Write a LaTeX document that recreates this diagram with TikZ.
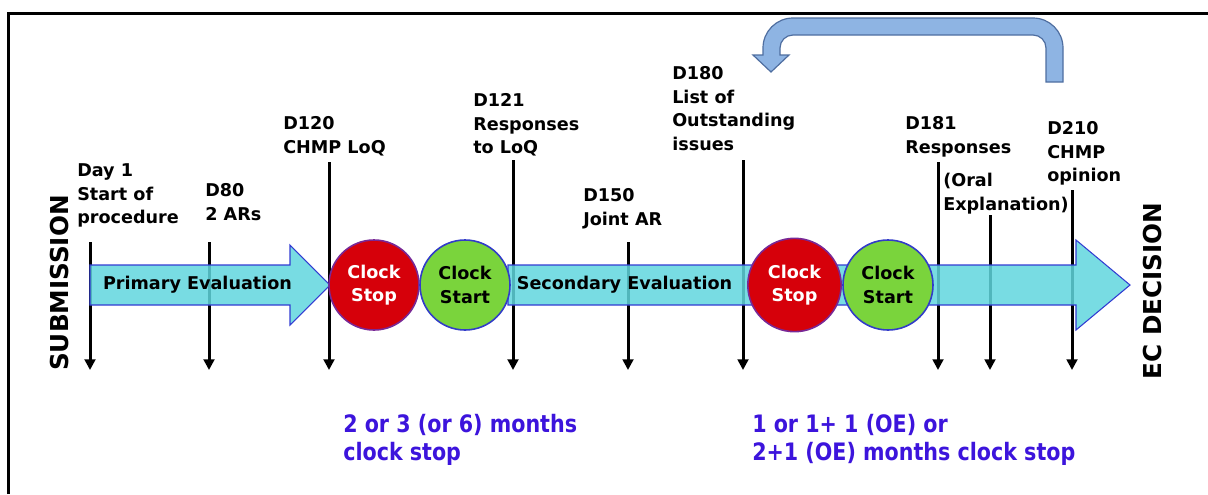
\documentclass[tikz,border=0pt]{standalone}
\usepackage{fontspec}
\setmainfont{DejaVu Sans}
\newfontfamily\condsans[FakeStretch=0.86]{DejaVu Sans}
\usetikzlibrary{arrows.meta}
\definecolor{evalfill}{RGB}{96,214,222}
\definecolor{evalline}{RGB}{50,60,210}
\definecolor{stopred}{RGB}{214,0,10}
\definecolor{stopline}{RGB}{120,40,150}
\definecolor{startgreen}{RGB}{122,212,60}
\definecolor{startline}{RGB}{50,60,200}
\definecolor{loopfill}{RGB}{142,180,227}
\definecolor{loopline}{RGB}{79,110,160}
\definecolor{notecol}{RGB}{60,20,220}
\begin{document}
\begin{tikzpicture}[x=0.75pt,y=-0.75pt,
  labelfont/.style={font=\bfseries\fontsize{13.2}{17.6}\selectfont},
  lbl/.style={labelfont, align=left, anchor=north west, inner sep=0pt},
  milestone/.style={line width=2.25pt, -{Triangle[width=8pt,length=8pt]}},
  evalarrow/.style={fill=evalfill, fill opacity=0.85, draw=evalline, line width=0.8pt},
  clockc/.style={circle, minimum size=67.5pt, inner sep=0pt, align=center, line width=1.2pt, labelfont},
  stopc/.style={clockc, draw=stopline, fill=stopred, text=white},
  startc/.style={clockc, draw=startline, fill=startgreen, text=black},
  sidetitle/.style={font=\bfseries\fontsize{18.5}{22}\selectfont, rotate=90, inner sep=0pt},
  note/.style={font=\condsans\bfseries\fontsize{18}{21}\selectfont, text=notecol, align=left, anchor=north west, inner sep=0pt},
  loop/.style={draw=loopline, fill=loopfill, line width=0.9pt}]
\useasboundingbox (0,0) rectangle (1208,494);

% outer frame (open at right and bottom)
\draw[line width=2.25pt] (8,494) -- (8,13) -- (1208,13);

% milestone ticks
\foreach \n/\x/\top in {m1/90/242, m80/209/242, m120/329/162, m121/513/160,
                        m150/628/242, m180/743/160, m181/938/162, moe/990/215, m210/1072/190}{
  \coordinate (\n top) at (\x,\top);
  \coordinate (\n bot) at (\x,370);
  \draw[milestone] (\n top) -- (\n bot);
}

% evaluation arrows
\draw[evalarrow] (90,265) -- (290,265) -- (290,245) -- (330,285) -- (290,325) -- (290,305) -- (90,305) -- cycle;
\draw[evalarrow] (508,265) -- (1076,265) -- (1076,240) -- (1130,285) -- (1076,330) -- (1076,305) -- (508,305) -- cycle;

\node[labelfont] (primary) at (197.5,285) {Primary Evaluation};
\node[labelfont] (secondary) at (624.5,285) {Secondary Evaluation};

% clock stop / start discs
\node[stopc]  (stop1)  at (374,285) {Clock\\Stop};
\node[startc] (start1) at (465,285) {Clock\\Start};
\node[stopc, minimum size=70pt] (stop2) at (794.5,285) {Clock\\Stop};
\node[startc] (start2) at (888,285) {Clock\\Start};

% milestone labels
\node[lbl] (day1) at (77,163.5)  {Day 1\\Start of\\procedure};
\node[lbl] (d80)  at (205,183.5) {D80\\2 ARs};
\node[lbl] (d120) at (283,116.5) {D120\\CHMP LoQ};
\node[lbl] (d121) at (473,93.5)  {D121\\Responses\\to LoQ};
\node[lbl] (d150) at (583,188.5) {D150\\Joint AR};
\node[lbl] (d180) at (672,66.5)  {D180\\List of\\Outstanding\\issues};
\node[lbl] (d181) at (905,116.5) {D181\\Responses};
\node[lbl] (oe)   at (943,173)   {(Oral\\Explanation)};
\node[lbl] (d210) at (1047,121.5) {D210\\CHMP\\opinion};

% side titles
\node[sidetitle] (submission) at (60,283) {SUBMISSION};
\node[sidetitle] (ecdecision) at (1153,291) {EC DECISION};

% clock-stop durations
\node[note] (note1) at (343,414) {2 or 3 (or 6) months\\clock stop};
\node[note] (note2) at (752,414) {1 or 1+ 1 (OE) or\\2+1 (OE) months clock stop};

% return loop from D210 back to D180
\draw[loop] (1063,82) -- (1063,48) .. controls (1063,31.4) and (1049.6,18) .. (1033,18)
  -- (793,18) .. controls (776.4,18) and (763,31.4) .. (763,48)
  -- (763,55) -- (753,55) -- (771,72) -- (789,55) -- (780,55) -- (780,48)
  .. controls (780,40.8) and (785.8,35) .. (793,35)
  -- (1033,35) .. controls (1040.2,35) and (1046,40.8) .. (1046,48)
  -- (1046,82) -- cycle;
\end{tikzpicture}
\end{document}
